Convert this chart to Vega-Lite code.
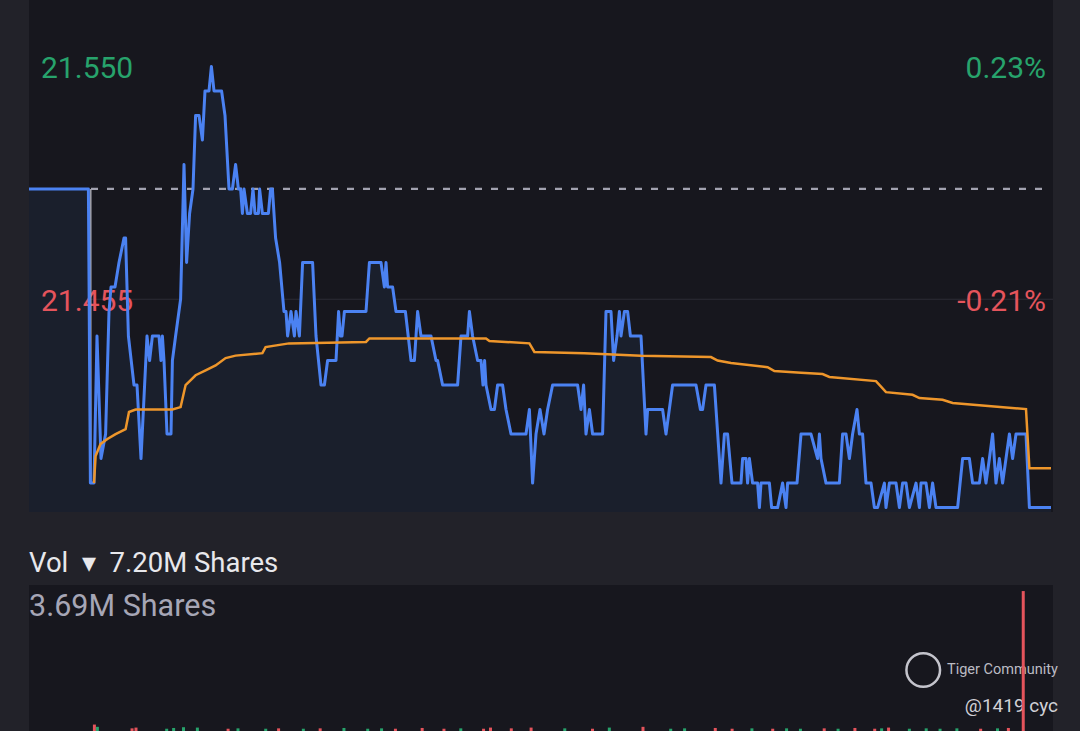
{
  "$schema": "https://vega.github.io/schema/vega-lite/v6.json",
  "background": "#222229",
  "padding": {"left": 28, "right": 28, "top": 0, "bottom": 0},
  "autosize": {"type": "pad"},
  "bounds": "flush",
  "spacing": 73,
  "config": {"view": {"stroke": null, "fill": "#17171e"}, "font": "Roboto"},
  "datasets": {
    "price": [
      {"t":0,"price":21.50},{"t":29.7,"price":21.50},{"t":30.7,"price":21.38},{"t":32.5,"price":21.38},{"t":34,"price":21.44},{"t":36,"price":21.39},{"t":38.3,"price":21.40},{"t":40,"price":21.45},{"t":41,"price":21.46},{"t":43,"price":21.46},{"t":45,"price":21.47},{"t":47.5,"price":21.48},{"t":48.3,"price":21.48},{"t":49.7,"price":21.44},{"t":52.5,"price":21.42},{"t":54,"price":21.42},{"t":56,"price":21.39},{"t":59,"price":21.44},{"t":60.3,"price":21.43},{"t":61.7,"price":21.44},{"t":65,"price":21.44},{"t":66,"price":21.43},{"t":66.7,"price":21.44},{"t":67.5,"price":21.43},{"t":69,"price":21.40},{"t":71,"price":21.40},{"t":71.7,"price":21.43},{"t":73.3,"price":21.44},{"t":75.8,"price":21.455},{"t":77.5,"price":21.51},{"t":78.8,"price":21.47},{"t":80.3,"price":21.49},{"t":82,"price":21.50},{"t":83.3,"price":21.53},{"t":85,"price":21.53},{"t":86.7,"price":21.52},{"t":88,"price":21.54},{"t":90,"price":21.54},{"t":91.2,"price":21.55},{"t":92.5,"price":21.54},{"t":96.3,"price":21.54},{"t":98,"price":21.53},{"t":100,"price":21.50},{"t":101.7,"price":21.50},{"t":103.3,"price":21.51},{"t":104.7,"price":21.50},{"t":105.8,"price":21.50},{"t":106.7,"price":21.49},{"t":107.5,"price":21.50},{"t":109.2,"price":21.49},{"t":110.8,"price":21.49},{"t":112,"price":21.50},{"t":113,"price":21.49},{"t":114.7,"price":21.49},{"t":115.3,"price":21.50},{"t":116.7,"price":21.49},{"t":119.7,"price":21.49},{"t":120.8,"price":21.50},{"t":121.7,"price":21.50},{"t":123.3,"price":21.48},{"t":125.3,"price":21.47},{"t":127.5,"price":21.45},{"t":128.5,"price":21.45},{"t":129.3,"price":21.44},{"t":131,"price":21.45},{"t":132.7,"price":21.44},{"t":133.5,"price":21.45},{"t":135.2,"price":21.44},{"t":136.8,"price":21.47},{"t":141.8,"price":21.47},{"t":143.5,"price":21.44},{"t":146,"price":21.42},{"t":147.7,"price":21.42},{"t":149.3,"price":21.43},{"t":153.5,"price":21.43},{"t":154.8,"price":21.45},{"t":155.7,"price":21.44},{"t":156.5,"price":21.44},{"t":157.7,"price":21.45},{"t":168.5,"price":21.45},{"t":170.2,"price":21.47},{"t":176,"price":21.47},{"t":177.7,"price":21.46},{"t":178.5,"price":21.47},{"t":179.3,"price":21.46},{"t":181.8,"price":21.46},{"t":183.5,"price":21.45},{"t":188.2,"price":21.45},{"t":191,"price":21.43},{"t":192.7,"price":21.43},{"t":194.3,"price":21.45},{"t":196,"price":21.44},{"t":201,"price":21.44},{"t":203.5,"price":21.43},{"t":204.3,"price":21.43},{"t":206.8,"price":21.42},{"t":214.3,"price":21.42},{"t":216,"price":21.44},{"t":219.3,"price":21.44},{"t":220.2,"price":21.45},{"t":221.8,"price":21.44},{"t":224.3,"price":21.43},{"t":226,"price":21.43},{"t":227,"price":21.42},{"t":227.8,"price":21.43},{"t":228.5,"price":21.42},{"t":231,"price":21.41},{"t":232.7,"price":21.41},{"t":234.3,"price":21.42},{"t":236.8,"price":21.42},{"t":238.5,"price":21.41},{"t":241,"price":21.40},{"t":248.5,"price":21.40},{"t":250.2,"price":21.41},{"t":251.8,"price":21.38},{"t":253.5,"price":21.40},{"t":255.5,"price":21.41},{"t":257.5,"price":21.40},{"t":259.3,"price":21.41},{"t":261.8,"price":21.42},{"t":274.3,"price":21.42},{"t":276,"price":21.41},{"t":277.3,"price":21.42},{"t":278.5,"price":21.40},{"t":280.2,"price":21.41},{"t":281.8,"price":21.40},{"t":286.8,"price":21.40},{"t":288.5,"price":21.45},{"t":291,"price":21.45},{"t":292.3,"price":21.43},{"t":294,"price":21.44},{"t":295.2,"price":21.45},{"t":296,"price":21.44},{"t":297.7,"price":21.45},{"t":299.3,"price":21.45},{"t":300.7,"price":21.44},{"t":306,"price":21.44},{"t":308.5,"price":21.40},{"t":309.3,"price":21.41},{"t":316.8,"price":21.41},{"t":318.5,"price":21.40},{"t":321.8,"price":21.42},{"t":333.5,"price":21.42},{"t":335.7,"price":21.41},{"t":336.8,"price":21.41},{"t":338.5,"price":21.42},{"t":342.7,"price":21.42},{"t":346,"price":21.38},{"t":347.7,"price":21.40},{"t":349.3,"price":21.40},{"t":351.5,"price":21.38},{"t":356,"price":21.38},{"t":356.8,"price":21.39},{"t":358.5,"price":21.39},{"t":359.3,"price":21.38},{"t":360.2,"price":21.39},{"t":361.8,"price":21.38},{"t":364.3,"price":21.38},{"t":365.2,"price":21.37},{"t":366,"price":21.38},{"t":370.2,"price":21.38},{"t":371.3,"price":21.37},{"t":374.3,"price":21.37},{"t":376.8,"price":21.38},{"t":378.5,"price":21.37},{"t":379.3,"price":21.38},{"t":384,"price":21.38},{"t":386,"price":21.40},{"t":391,"price":21.40},{"t":394.3,"price":21.39},{"t":395.2,"price":21.40},{"t":396,"price":21.39},{"t":398.5,"price":21.38},{"t":405.2,"price":21.38},{"t":406.8,"price":21.40},{"t":408.5,"price":21.40},{"t":410.2,"price":21.39},{"t":411.8,"price":21.40},{"t":414,"price":21.41},{"t":415.2,"price":21.40},{"t":416.8,"price":21.40},{"t":418.5,"price":21.38},{"t":421,"price":21.38},{"t":422.7,"price":21.37},{"t":424.3,"price":21.37},{"t":427.7,"price":21.38},{"t":428.5,"price":21.37},{"t":430.2,"price":21.38},{"t":433.5,"price":21.38},{"t":435.2,"price":21.37},{"t":436.8,"price":21.38},{"t":438.5,"price":21.38},{"t":440.2,"price":21.37},{"t":443.5,"price":21.38},{"t":445.2,"price":21.37},{"t":446,"price":21.38},{"t":448.5,"price":21.38},{"t":450.2,"price":21.37},{"t":451.8,"price":21.38},{"t":453.5,"price":21.37},{"t":464.3,"price":21.37},{"t":466.8,"price":21.39},{"t":470.2,"price":21.39},{"t":471.8,"price":21.38},{"t":475.2,"price":21.38},{"t":476.8,"price":21.39},{"t":478.5,"price":21.38},{"t":480.2,"price":21.39},{"t":481.8,"price":21.40},{"t":483.5,"price":21.38},{"t":485.2,"price":21.39},{"t":486.8,"price":21.38},{"t":488.5,"price":21.39},{"t":490.2,"price":21.40},{"t":491.8,"price":21.39},{"t":493.5,"price":21.40},{"t":498.5,"price":21.40},{"t":500.2,"price":21.37},{"t":511,"price":21.37}
    ],
    "avg": [
      {"t":32.5,"price":21.38},{"t":33.3,"price":21.391},{"t":35.8,"price":21.396},{"t":39.2,"price":21.398},{"t":43.3,"price":21.400},{"t":48.3,"price":21.402},{"t":50,"price":21.409},{"t":53.3,"price":21.410},{"t":71.7,"price":21.410},{"t":75.8,"price":21.411},{"t":78.3,"price":21.420},{"t":83.3,"price":21.424},{"t":88.3,"price":21.426},{"t":93.3,"price":21.428},{"t":98.3,"price":21.431},{"t":103.3,"price":21.432},{"t":116.7,"price":21.433},{"t":118.3,"price":21.4355},{"t":130,"price":21.437},{"t":168.5,"price":21.4376},{"t":170.2,"price":21.439},{"t":228.5,"price":21.439},{"t":230.2,"price":21.438},{"t":250.2,"price":21.437},{"t":252.7,"price":21.4335},{"t":277.7,"price":21.433},{"t":306,"price":21.432},{"t":341,"price":21.4314},{"t":344.3,"price":21.430},{"t":351,"price":21.429},{"t":369.3,"price":21.4273},{"t":372.7,"price":21.4257},{"t":386,"price":21.425},{"t":396.8,"price":21.4245},{"t":400.2,"price":21.4233},{"t":423.5,"price":21.4216},{"t":428.5,"price":21.4171},{"t":441.8,"price":21.416},{"t":445.2,"price":21.4147},{"t":456.8,"price":21.414},{"t":461.8,"price":21.4127},{"t":498.5,"price":21.4102},{"t":500.2,"price":21.386},{"t":511,"price":21.386}
    ],
    "grid": [{"t":0,"t1":512,"price":21.455}],
    "prevClose": [{"t":31,"t1":508,"price":21.50}],
    "openLine": [{"t":30.9,"price":21.50,"price2":21.38}],
    "priceLabels": [
      {"t":6,"price":21.55,"label":"21.550","dir":"up","side":"left"},
      {"t":508.5,"price":21.55,"label":"0.23%","dir":"up","side":"right"},
      {"t":6,"price":21.455,"label":"21.455","dir":"down","side":"left"},
      {"t":508.5,"price":21.455,"label":"-0.21%","dir":"down","side":"right"}
    ],
    "vol": [
      {"t":30.5,"vol":170000,"dir":"down"},{"t":32,"vol":110000,"dir":"up"},{"t":49.5,"vol":70000,"dir":"down"},{"t":51.5,"vol":90000,"dir":"down"},{"t":67,"vol":60000,"dir":"up"},{"t":70.5,"vol":80000,"dir":"up"},{"t":75.5,"vol":100000,"dir":"up"},{"t":82.5,"vol":90000,"dir":"up"},{"t":98,"vol":60000,"dir":"down"},{"t":103,"vol":70000,"dir":"up"},{"t":117,"vol":60000,"dir":"up"},{"t":123.5,"vol":70000,"dir":"down"},{"t":136,"vol":60000,"dir":"up"},{"t":144.5,"vol":70000,"dir":"down"},{"t":156.5,"vol":80000,"dir":"up"},{"t":168.5,"vol":60000,"dir":"up"},{"t":175.5,"vol":70000,"dir":"up"},{"t":182.5,"vol":60000,"dir":"down"},{"t":196,"vol":80000,"dir":"down"},{"t":207,"vol":60000,"dir":"down"},{"t":215.5,"vol":70000,"dir":"up"},{"t":227,"vol":60000,"dir":"down"},{"t":230.5,"vol":90000,"dir":"down"},{"t":241,"vol":70000,"dir":"down"},{"t":251,"vol":90000,"dir":"down"},{"t":268,"vol":70000,"dir":"up"},{"t":282,"vol":60000,"dir":"down"},{"t":290.5,"vol":90000,"dir":"up"},{"t":307.5,"vol":110000,"dir":"down"},{"t":321.5,"vol":60000,"dir":"up"},{"t":328.5,"vol":70000,"dir":"up"},{"t":344,"vol":80000,"dir":"down"},{"t":352.5,"vol":60000,"dir":"down"},{"t":362.5,"vol":70000,"dir":"up"},{"t":373,"vol":60000,"dir":"down"},{"t":380,"vol":70000,"dir":"up"},{"t":387,"vol":60000,"dir":"up"},{"t":399,"vol":70000,"dir":"down"},{"t":406,"vol":60000,"dir":"up"},{"t":414.5,"vol":80000,"dir":"down"},{"t":424.5,"vol":60000,"dir":"down"},{"t":428,"vol":70000,"dir":"up"},{"t":431.5,"vol":90000,"dir":"down"},{"t":442,"vol":60000,"dir":"up"},{"t":450.5,"vol":70000,"dir":"up"},{"t":457.5,"vol":60000,"dir":"up"},{"t":466,"vol":70000,"dir":"up"},{"t":478,"vol":60000,"dir":"down"},{"t":486.5,"vol":70000,"dir":"up"},{"t":492,"vol":80000,"dir":"down"},{"t":499.5,"vol":3690000,"dir":"down"}
    ],
    "volLabel": [{"t":-2.5,"vol":3690000,"label":"3.69M Shares"}],
    "watermark": [
      {"t":461,"vol":1610000,"label":"Tiger Community","size":"small"},
      {"t":470,"vol":660000,"label":"@1419 cyc","size":"large"}
    ],
    "logo": [{"t":449,"vol":1610000}]
  },
  "vconcat": [
    {
      "width": 1024,
      "height": 512,
      "encoding": {
        "x": {"field": "t", "type": "quantitative", "scale": {"domain": [0, 512], "nice": false, "zero": false}, "axis": null},
        "y": {"field": "price", "type": "quantitative", "scale": {"domain": [21.3682, 21.5771], "nice": false, "zero": false}, "axis": null}
      },
      "layer": [
        {"data": {"name": "grid"}, "mark": {"type": "rule", "color": "#2c2c36", "strokeWidth": 1}, "encoding": {"x2": {"field": "t1"}}},
        {"data": {"name": "price"}, "mark": {"type": "area", "color": "#1a1f2c", "opacity": 1, "clip": true}, "encoding": {"y2": {"datum": 21.3682}}},
        {"data": {"name": "prevClose"}, "mark": {"type": "rule", "color": "#a2a2b0", "strokeWidth": 2.2, "strokeDash": [7, 9]}, "encoding": {"x2": {"field": "t1"}}},
        {"data": {"name": "priceLabels"}, "transform": [{"filter": "datum.side == 'left'"}], "mark": {"type": "text", "align": "left", "baseline": "middle", "fontSize": 30, "dy": 3}, "encoding": {"text": {"field": "label"}, "color": {"field": "dir", "type": "nominal", "scale": {"domain": ["up", "down"], "range": ["#27a36c", "#e5545c"]}, "legend": null}}},
        {"data": {"name": "priceLabels"}, "transform": [{"filter": "datum.side == 'right'"}], "mark": {"type": "text", "align": "right", "baseline": "middle", "fontSize": 30, "dy": 3}, "encoding": {"text": {"field": "label"}, "color": {"field": "dir", "type": "nominal", "scale": {"domain": ["up", "down"], "range": ["#27a36c", "#e5545c"]}, "legend": null}}},
        {"data": {"name": "openLine"}, "mark": {"type": "rule", "color": "#a4a4ae", "strokeWidth": 1.5}, "encoding": {"y2": {"field": "price2"}}},
        {"data": {"name": "price"}, "mark": {"type": "line", "color": "#4b82f2", "strokeWidth": 3, "strokeJoin": "round", "clip": true}, "encoding": {}},
        {"data": {"name": "avg"}, "mark": {"type": "line", "color": "#ee962b", "strokeWidth": 2.5, "clip": true}, "encoding": {}}
      ]
    },
    {
      "width": 1024,
      "height": 146,
      "title": {"text": "Vol\u00a0\u00a0▾\u00a0\u00a07.20M Shares", "anchor": "start", "fontSize": 27.5, "fontWeight": "normal", "color": "#e8e8ec", "offset": 8, "font": "Roboto"},
      "encoding": {
        "x": {"field": "t", "type": "quantitative", "scale": {"domain": [0, 512], "nice": false, "zero": false}, "axis": null},
        "y": {"field": "vol", "type": "quantitative", "scale": {"domain": [0, 3850000], "nice": false}, "axis": null}
      },
      "layer": [
        {"data": {"name": "volLabel"}, "mark": {"type": "text", "align": "left", "baseline": "top", "fontSize": 30.5, "color": "#a6a6b6", "dy": 1}, "encoding": {"text": {"field": "label"}}},
        {"data": {"name": "watermark"}, "transform": [{"filter": "datum.size == 'small'"}], "mark": {"type": "text", "align": "left", "baseline": "middle", "fontSize": 14.5, "color": "#bcbcc4"}, "encoding": {"text": {"field": "label"}}},
        {"data": {"name": "watermark"}, "transform": [{"filter": "datum.size == 'large'"}], "mark": {"type": "text", "align": "left", "baseline": "middle", "fontSize": 19, "color": "#d0d0d6"}, "encoding": {"text": {"field": "label"}}},
        {"data": {"name": "logo"}, "mark": {"type": "point", "shape": "circle", "size": 1130, "filled": false, "stroke": "#c4c4cc", "strokeWidth": 2.5, "opacity": 1}, "encoding": {}},
        {"data": {"name": "vol"}, "mark": {"type": "bar", "size": 3, "clip": true}, "encoding": {"color": {"field": "dir", "type": "nominal", "scale": {"domain": ["up", "down"], "range": ["#27a36c", "#e0504f"]}, "legend": null}}}
      ]
    }
  ]
}
